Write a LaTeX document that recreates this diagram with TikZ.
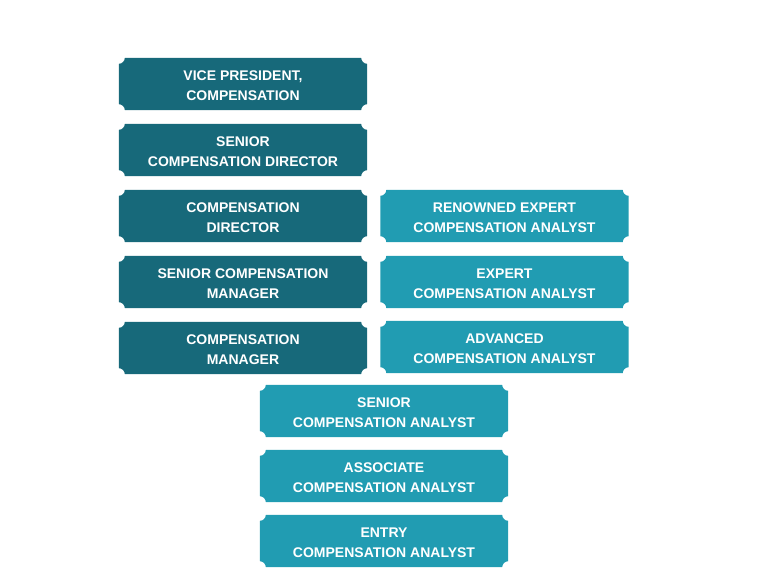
\documentclass[tikz,border=0pt]{standalone}
\usepackage{fontspec}
\setmainfont{Liberation Sans}
\definecolor{darkteal}{HTML}{17697A}
\definecolor{lightteal}{HTML}{219CB2}
\pgfdeclarelayer{background}
\pgfsetlayers{background,main}
% text sits 1.5pt below the box centre: the box is drawn shifted back up
\newcommand\scoopfill[2]{%
  \begin{pgfonlayer}{background}
  \fill[#2] ([xshift=6pt,yshift=1.5pt]#1.north west) -- ([xshift=-6pt,yshift=1.5pt]#1.north east)
    arc[start angle=180, end angle=270, radius=6pt]
    -- ([yshift=7.5pt]#1.south east)
    arc[start angle=90, end angle=180, radius=6pt]
    -- ([xshift=6pt,yshift=1.5pt]#1.south west)
    arc[start angle=0, end angle=90, radius=6pt]
    -- ([yshift=-4.5pt]#1.north west)
    arc[start angle=270, end angle=360, radius=6pt] -- cycle;
  \end{pgfonlayer}}
\begin{document}
\begin{tikzpicture}[x=1pt,y=-1pt,
  role/.style={minimum width=248pt, minimum height=52pt, inner sep=0pt,
    text=white, align=center, yshift=-1.5pt,
    font=\fontsize{14}{20}\selectfont\bfseries}]
\useasboundingbox (0,0) rectangle (768,576);
\node[role] (vp)  at (243,84)  {VICE PRESIDENT,\\COMPENSATION};
\node[role] (scd) at (243,150) {SENIOR\\COMPENSATION DIRECTOR};
\node[role] (cd)  at (243,216) {COMPENSATION\\DIRECTOR};
\node[role] (scm) at (243,282) {SENIOR COMPENSATION\\MANAGER};
\node[role] (cm)  at (243,348) {COMPENSATION\\MANAGER};
\node[role] (rea) at (504.5,216) {RENOWNED EXPERT\\COMPENSATION ANALYST};
\node[role] (ea)  at (504.5,282) {EXPERT\\COMPENSATION ANALYST};
\node[role] (aa)  at (504.5,347) {ADVANCED\\COMPENSATION ANALYST};
\node[role] (sa)  at (384,411) {SENIOR\\COMPENSATION ANALYST};
\node[role] (asa) at (384,476) {ASSOCIATE\\COMPENSATION ANALYST};
\node[role] (ena) at (384,541) {ENTRY\\COMPENSATION ANALYST};
\foreach \n in {vp,scd,cd,scm,cm} {\scoopfill{\n}{darkteal}}
\foreach \n in {rea,ea,aa,sa,asa,ena} {\scoopfill{\n}{lightteal}}
\end{tikzpicture}
\end{document}
